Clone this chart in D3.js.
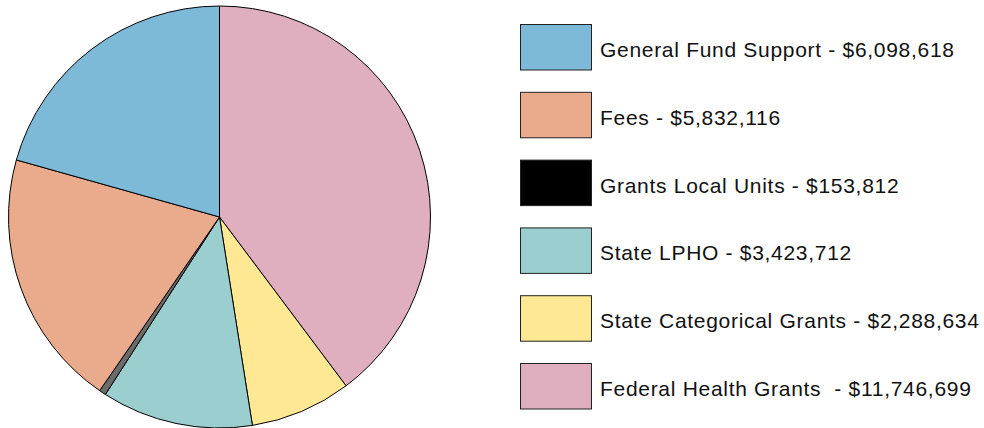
<!DOCTYPE html>
<html>
<head>
<meta charset="utf-8">
<script src="https://cdn.jsdelivr.net/npm/d3@7"></script>
<style>
  body { margin: 0; background: #fff; }
  text { font-family: Arial, "Liberation Sans", sans-serif; }
</style>
</head>
<body>
<svg id="chart" width="984" height="428"></svg>
<script>
// legend order
const categories = [
    'General Fund Support',
    'Fees',
    'Grants Local Units',
    'State LPHO',
    'State Categorical Grants',
    'Federal Health Grants '
];
const amounts = [6098618, 5832116, 153812, 3423712, 2288634, 11746699];
const sliceColors = ['#7dbad7', '#eaaa8c', '#6b6b6b', '#9bcfcf', '#fee893', '#dfaebf'];
const swatchColors = ['#7dbad7', '#eaaa8c', '#000000', '#9bcfcf', '#fee893', '#dfaebf'];

const data = categories.map((name, i) => ({ name, value: amounts[i], i }));

const svg = d3.select('#chart');
const fmt = d3.format('$,');

const radius = 211;
const pieGroup = svg.append('g')
    .attr('transform', 'translate(219.5,217)');

// slices run clockwise from 12 o'clock in reverse legend order
const pie = d3.pie()
    .sort(null)
    .value(d => d.value);

const arc = d3.arc()
    .innerRadius(0)
    .outerRadius(radius);

pieGroup.selectAll('path')
    .data(pie(data.slice().reverse()))
    .join('path')
    .attr('d', arc)
    .attr('fill', d => sliceColors[d.data.i])
    .attr('stroke', '#000')
    .attr('stroke-width', 1)
    .attr('stroke-linejoin', 'round');

const rowY = d3.scaleBand()
    .domain(d3.range(categories.length))
    .range([24, 24 + 67.8 * categories.length])
    .paddingInner(0);

const legend = svg.append('g').classed('legend', true);

const rows = legend.selectAll('g')
    .data(data)
    .join('g')
    .attr('transform', d => 'translate(520,' + rowY(d.i) + ')');

rows.append('rect')
    .attr('x', 0.5)
    .attr('y', 0.5)
    .attr('width', 71)
    .attr('height', 45.5)
    .attr('fill', d => swatchColors[d.i])
    .attr('stroke', '#222')
    .attr('stroke-width', 1);

rows.append('text')
    .attr('x', 80)
    .attr('y', 33)
    .attr('font-size', 21)
    .attr('letter-spacing', 0.7)
    .attr('fill', '#111')
    .style('white-space', 'pre')
    .text(d => d.name + ' - ' + fmt(d.value));
</script>
</body>
</html>
